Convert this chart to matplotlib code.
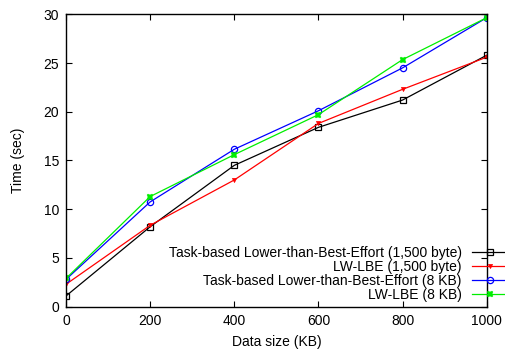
import matplotlib
matplotlib.use('Agg')
import matplotlib.pyplot as plt

plt.rcParams['font.family'] = ['Liberation Sans', 'DejaVu Sans']

# Données
data_size = [0, 200, 400, 600, 800, 1000]
task_1500 = [1.1, 8.2, 14.5, 18.4, 21.2, 25.8]
lwlbe_1500 = [2.3, 8.35, 13.0, 18.8, 22.3, 25.6]
task_8k = [2.8, 10.75, 16.15, 20.1, 24.5, 29.65]
lwlbe_8k = [2.9, 11.3, 15.6, 19.7, 25.35, 29.65]

labels = ['Task-based Lower-than-Best-Effort (1,500 byte)',
          'LW-LBE (1,500 byte)',
          'Task-based Lower-than-Best-Effort (8 KB)',
          'LW-LBE (8 KB)']

fig = plt.figure(figsize=(5.05, 3.52), dpi=100)
ax = fig.add_axes([0.1307, 0.1287, 0.833, 0.8307])

lw = 0.9
ax.plot(data_size, task_1500, color='black', lw=lw, marker='s', ms=4.5,
        mfc='none', mew=0.9, label=labels[0])
ax.plot(data_size, lwlbe_1500, color='red', lw=lw, marker='v', ms=3,
        mew=0.5, label=labels[1])
ax.plot(data_size, task_8k, color='blue', lw=lw, marker='o', ms=4.5,
        mfc='none', mew=0.9, label=labels[2])
ax.plot(data_size, lwlbe_8k, color='#00ee00', lw=lw, marker='X', ms=4.5,
        mew=0.3, label=labels[3])

ax.set_xlim(0, 1000)
ax.set_ylim(0, 30)
ax.set_xticks([0, 200, 400, 600, 800, 1000])
ax.set_yticks([0, 5, 10, 15, 20, 25, 30])
ax.tick_params(direction='in', top=True, right=True, length=4, width=0.8,
               labelsize=10, pad=5)
for s in ax.spines.values():
    s.set_linewidth(1.0)

ax.set_xlabel('Data size (KB)', fontsize=10, labelpad=5)
ax.set_ylabel('Time (sec)', fontsize=10, labelpad=13)

leg = ax.legend(loc='lower right', bbox_to_anchor=(1.05, 0.015),
                frameon=False, markerfirst=False, fontsize=10,
                handlelength=2.6, handletextpad=0.7, borderpad=0,
                borderaxespad=0, labelspacing=0.0, numpoints=1)
leg.set_clip_on(False)

fig.savefig('out.png', dpi=100)
